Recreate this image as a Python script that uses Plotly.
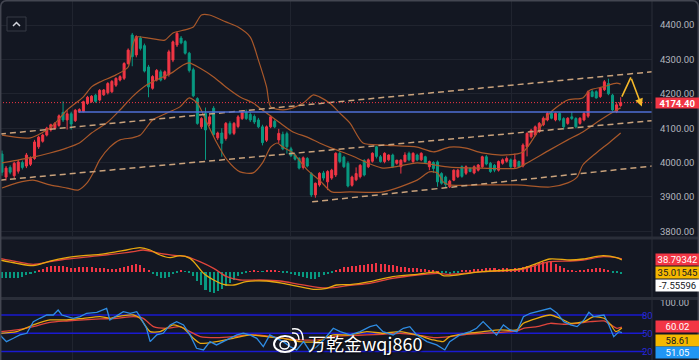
import plotly.graph_objects as go

# ---------------- data ----------------
opens = [4025, 3958, 3986, 3962, 3975, 4000, 3990, 3995, 4012, 4046,
         4062, 4080, 4095, 4100, 4108, 4146, 4124, 4142, 4122, 4147,
         4148, 4172, 4177, 4196, 4182, 4197, 4203, 4206, 4225, 4240,
         4245, 4288, 4371, 4313, 4362, 4340, 4278, 4216, 4240, 4264,
         4245, 4256, 4298, 4342, 4362, 4352, 4318, 4270, 4186, 4104,
         4143, 4112, 4158, 4072, 4086, 4070, 4114, 4085, 4105, 4128,
         4146, 4140, 4134, 4124, 4104, 4065, 4104, 4120, 4066, 4082,
         4084, 4040, 4022, 4012, 3986, 4012, 3968, 3906, 3935, 3970,
         3944, 3955, 3964, 4027, 4016, 3998, 3934, 3950, 3959, 4006,
         3988, 4004, 4046, 4017, 4003, 4008, 4022, 3998, 3988, 4003,
         4027, 4003, 4022, 4008, 4017, 3988, 4000, 4002, 3968, 3958,
         3930, 3949, 3959, 3988, 3969, 3983, 3970, 3978, 3988, 4017,
         3998, 3992, 3978, 3998, 4004, 4008, 3988, 4003, 3990, 4046,
         4075, 4080, 4090, 4110, 4124, 4143, 4124, 4143, 4128, 4114,
         4133, 4128, 4114, 4124, 4135, 4206, 4206, 4192, 4212, 4230,
         4196, 4148, 4166]
highs = [4035, 3990, 3992, 4002, 4008, 4006, 4028, 4018, 4066, 4078,
         4084, 4104, 4113, 4118, 4140, 4178, 4152, 4148, 4156, 4158,
         4180, 4194, 4196, 4200, 4214, 4214, 4234, 4240, 4248, 4254,
         4292, 4332, 4377, 4370, 4368, 4346, 4284, 4254, 4272, 4270,
         4268, 4328, 4355, 4381, 4368, 4356, 4322, 4276, 4190, 4132,
         4160, 4138, 4164, 4090, 4100, 4118, 4120, 4118, 4138, 4152,
         4154, 4146, 4140, 4130, 4110, 4108, 4138, 4126, 4098, 4090,
         4090, 4046, 4026, 4016, 4018, 4016, 3972, 3942, 3972, 3976,
         3978, 3982, 4030, 4032, 4020, 4004, 3962, 3986, 3996, 4010,
         4012, 4030, 4048, 4022, 4030, 4024, 4026, 4008, 4010, 4030,
         4032, 4030, 4026, 4030, 4020, 4006, 4004, 4006, 3972, 3962,
         3950, 3980, 3982, 3992, 3992, 3986, 3992, 3996, 4020, 4022,
         4002, 3996, 4006, 4012, 4018, 4012, 4026, 4006, 4056, 4088,
         4098, 4108, 4118, 4134, 4148, 4148, 4146, 4146, 4132, 4132,
         4148, 4132, 4132, 4148, 4210, 4212, 4210, 4220, 4240, 4244,
         4200, 4176, 4190]
lows = [3962, 3948, 3966, 3955, 3968, 3980, 3984, 3990, 4008, 4040,
        4058, 4076, 4090, 4096, 4104, 4118, 4096, 4096, 4118, 4144,
        4146, 4168, 4174, 4174, 4178, 4194, 4198, 4202, 4220, 4236,
        4240, 4284, 4280, 4306, 4326, 4262, 4190, 4212, 4236, 4236,
        4240, 4250, 4292, 4336, 4344, 4314, 4262, 4190, 4110, 4098,
        4008, 4106, 4076, 4066, 4017, 4064, 4080, 4080, 4100, 4124,
        4124, 4118, 4112, 4100, 4050, 4060, 4100, 4100, 4056, 4036,
        4026, 4016, 4006, 3980, 3980, 3986, 3900, 3898, 3930, 3948,
        3920, 3950, 3958, 3998, 3984, 3928, 3930, 3946, 3954, 3960,
        3984, 4000, 4012, 4000, 3998, 4004, 3984, 3994, 3968, 4000,
        4004, 3998, 4004, 4004, 3996, 3978, 3970, 3930, 3936, 3928,
        3926, 3946, 3955, 3956, 3964, 3972, 3966, 3974, 3984, 3992,
        3970, 3972, 3974, 3994, 4000, 3984, 3984, 3986, 3986, 4018,
        4070, 4076, 4086, 4106, 4120, 4126, 4120, 4120, 4096, 4110,
        4124, 4100, 4110, 4120, 4130, 4190, 4186, 4188, 4208, 4196,
        4148, 4144, 4162]
closes = [3972, 3984, 3972, 3998, 4002, 3986, 4022, 4012, 4060, 4074,
          4080, 4100, 4110, 4114, 4136, 4124, 4142, 4112, 4152, 4154,
          4177, 4190, 4193, 4178, 4210, 4211, 4230, 4236, 4245, 4250,
          4288, 4327, 4308, 4366, 4332, 4266, 4220, 4250, 4268, 4240,
          4264, 4322, 4351, 4376, 4348, 4318, 4268, 4194, 4114, 4128,
          4095, 4133, 4082, 4086, 4056, 4114, 4085, 4114, 4133, 4146,
          4128, 4124, 4118, 4104, 4058, 4104, 4133, 4104, 4085, 4040,
          4046, 4020, 4010, 3984, 4014, 3990, 3906, 3940, 3969, 3955,
          3974, 3978, 4027, 4003, 3988, 3932, 3958, 3968, 3992, 3964,
          4008, 4027, 4018, 4003, 4027, 4022, 3988, 4007, 4007, 4022,
          4008, 4027, 4008, 4027, 4000, 4003, 3983, 3944, 3940, 3936,
          3946, 3978, 3978, 3960, 3988, 3974, 3988, 3993, 4017, 3996,
          3974, 3978, 4003, 4008, 4012, 3988, 4008, 3988, 4051, 4085,
          4094, 4104, 4114, 4129, 4143, 4129, 4143, 4124, 4104, 4129,
          4128, 4104, 4129, 4143, 4206, 4192, 4188, 4216, 4235, 4200,
          4153, 4168, 4174.4]
bars = list(range(len(closes)))

# Bollinger bands (sampled at bar positions)
bb_upper_x = [0, 7, 12, 16, 20, 22, 24, 28, 31, 32, 33, 36, 40, 42, 45, 47, 49, 51, 55, 58, 61, 63, 65, 66,
              69, 71.5, 74, 76.5, 78, 80.5, 83, 85.5, 88.7, 93.6, 102, 106, 110, 114, 118, 123, 128, 131.4,
              134.6, 139, 142.7, 144.5, 147.7, 151, 152]
bb_upper = [4080, 4072, 4103, 4153, 4191, 4220, 4234, 4255, 4278, 4336, 4365, 4362, 4356, 4377, 4386, 4394,
            4429, 4429, 4409, 4394, 4365, 4298, 4220, 4162, 4153, 4159, 4173, 4197, 4191, 4173, 4144, 4115,
            4057, 4051, 4045, 4031, 4045, 4042, 4028, 4022, 4031, 4086, 4144, 4182, 4188, 4211, 4220, 4231, 4228]
bb_mid_x = [0, 7.6, 11.8, 16, 19, 22, 26, 29, 32, 35.6, 39, 42, 44.5, 46, 48.6, 52, 55, 58.5, 61.7, 65, 68,
            71.5, 75, 78, 81, 85.5, 93.6, 102, 110, 118, 126.5, 129, 134.6, 139, 142.7, 147, 151, 152]
bb_mid = [3999, 4016, 4028, 4043, 4057, 4086, 4118, 4153, 4191, 4226, 4246, 4263, 4284, 4290, 4275, 4249,
          4220, 4191, 4173, 4144, 4118, 4089, 4074, 4057, 4042, 4022, 3984, 3999, 3987, 3984, 3984, 3999,
          4037, 4066, 4089, 4124, 4153, 4159]
bb_lower_x = [0, 3.7, 7.6, 11.8, 16, 18.7, 20.9, 22.4, 24, 26.5, 29, 32, 34, 37, 40.5, 43.7, 46, 48, 50.4,
              52.8, 55.3, 58.5, 61.7, 64, 66, 67.6, 69, 71.5, 75, 78, 81, 85.5, 93.6, 102, 105, 107, 108.4,
              110, 118, 126.5, 134.6, 139, 141.3, 142.7, 146, 149.4, 152]
bb_lower = [3926, 3941, 3949, 3935, 3926, 3920, 3941, 3970, 4008, 4045, 4066, 4072, 4080, 4124, 4144, 4162,
            4188, 4173, 4115, 4057, 4008, 3973, 3970, 3999, 4045, 4057, 4045, 4028, 3979, 3949, 3915, 3915,
            3915, 3949, 3973, 3970, 3944, 3935, 3935, 3935, 3929, 3941, 3958, 3993, 4028, 4060, 4086]

# drawn channel / levels: (bar position, price) end points
chan_upper = ([-0.5, 159.7], [4083, 4264])
chan_mid = ([-0.5, 159.7], [3949, 4122])
chan_lower = ([76.2, 159.7], [3886, 3990])
support_level = ([18.8, 159.7], [4147, 4147])
last_price = 4174.40
arrow_path = ([152.3, 154.5, 157.2], [4192, 4248, 4163])

# MACD
macd_hist = [-20, -21, -20, -20, -19, -16, -12, -7, -3,
             5, 9, 14, 16, 17, 18, 17, 15, 12, 12, 14, 15, 15, 15, 12, 12, 10, 9, 8, 9, 11, 13, 16, 20, 22, 19, 11, 2,
             -8, -15, -19, -20, -16, -9, -3,
             2, -1,
             -4, -14, -28, -42, -55, -62, -65, -60, -52, -45, -35, -25, -15, -8, -3,
             1, 2, 1, -1, 2, 4, 3, 1, -2,
             -5, -9, -12, -15, -18, -20, -24, -22, -18, -12, -7, -3,
             4, 9, 13, 15,
             16, 18, 20, 21, 23, 24, 25, 24, 22, 21, 19, 17, 15, 14, 12, 11, 10, 9, 7, 5, 3, 1,
             -3, -6, -7, -5, -3,
             3, 5, 6, 7, 8, 9, 10, 10, 10, 9, 10, 10, 9, 10, 11, 14, 18, 21, 24, 26, 28, 30, 28, 24, 18, 12, 6, 2, 1, 2,
             5, 8, 9, 10, 10, 9, 5,
             -3, -6, -7.55596]
dif_x = [-0.5, 3.6, 7.7, 11.8, 15.9, 20, 24, 28.2, 30.6, 33.9, 36.4, 38.8, 41.3, 43.7, 46.2, 47.8, 49.5, 52,
         54.4, 57, 60, 65, 69, 73, 76.5, 79.8, 82.2, 85.5, 90.4, 96, 102, 107, 108.4, 111.7, 118, 124.8, 128,
         131.4, 134.6, 139.6, 142.8, 147.7, 151, 152.3]
dif = [35.1, 24.9, 17.8, 32.0, 42.2, 48.3, 52.4, 60.5, 65.6, 72.7, 65.6, 50.3, 42.2, 48.3, 40.2, 19.8, -5.6,
       -25.9, -39.1, -41.2, -31.0, -29.0, -36.1, -46.3, -54.4, -51.3, -41.2, -40.0, -31.0, -15.8, -8.6, -2.5,
       -12.7, -10.7, -0.5, 4.6, 9.7, 24.9, 38.1, 35.1, 38.1, 48.3, 42.2, 35.01545]
dea_x = [-0.5, 3.6, 7.7, 11.8, 15.9, 24, 32.3, 34.7, 38.8, 43, 45.4, 48.6, 52, 55.2, 58.5, 63.4, 68.3, 73,
         78.2, 82.2, 85.5, 90.4, 96, 102, 107, 110, 118, 124.8, 128, 131.4, 134.6, 139.6, 142.8, 147.7, 151, 152.3]
dea = [40.2, 30, 21.9, 30, 38.1, 48.3, 60.5, 65.6, 55.4, 48.3, 45.2, 30, 9.7, -15.8, -25.9, -25.9, -29, -39.1,
       -49.3, -48.3, -42, -36.1, -20.9, -10.7, -5.6, -8.6, -0.5, 2.5, 6.6, 19.8, 30, 32, 35.1, 45.2, 42.2, 38.79342]

# RSI
rsi6_x = [-0.5, 1.1, 2.8, 4.4, 6.1, 7.7, 9.3, 11, 12.6, 13.8, 14.7, 15.9, 17.5, 19.2, 20.8, 23.3, 25.7, 26.5,
          27.8, 29.8, 31.5, 33.1, 33.9, 35.5, 36.4, 38, 39.6, 41.3, 42.9, 44.6, 46.2, 47.8, 49.5, 51.1, 52.7,
          54.4, 56, 57.7, 59.3, 60.9, 62.6, 64.2, 65.8, 67.5, 69.1, 70.8, 72.4, 74.1, 75.7, 77.3, 79, 81.4,
          83.1, 85.5, 88, 90.4, 92, 93.6, 96.1, 98.6, 100.2, 101.9, 104.4, 106.8, 108.8, 110, 112.5, 115,
          116.6, 118.2, 119.9, 121.5, 123.2, 124.8, 126.5, 128.1, 129.8, 131.4, 133.1, 134.7, 136.4, 138,
          139.7, 141.3, 143, 144.2, 145.4, 147.9, 149.1, 150.3, 151.6, 152.3]
rsi6 = [47.3, 36.3, 41.8, 47.3, 50, 69.1, 74.6, 80, 80, 88.2, 80, 77.3, 74.6, 77.3, 82.8, 84.4, 91, 71.9,
        77.3, 85.5, 82.8, 85.5, 77.3, 58.2, 36.3, 47.3, 50, 63.7, 69.1, 63.7, 47.3, 25.4, 22.7, 36.3, 30.9,
        36.3, 41.8, 47.3, 50, 47.3, 41.8, 28.1, 47.3, 41.8, 36.3, 28.1, 22.7, 36.3, 20, 28.1, 39.1, 58.2,
        52.7, 47.3, 52.7, 60.9, 63.7, 52.7, 47.3, 58.2, 60.9, 47.3, 36.3, 30.9, 22.7, 36.3, 47.3, 52.7,
        58.2, 69.1, 58.2, 47.3, 63.7, 55.5, 52.7, 77.3, 82.8, 85.5, 88.2, 91, 82.8, 69.1, 63.7, 60.9, 71.9,
        84.4, 77.3, 80, 63.7, 44.5, 52.7, 51.05]
rsi12_x = [-0.5, 3.6, 7.7, 11.8, 15.9, 20, 24.1, 26.5, 28.2, 32.3, 33.9, 36.4, 38.8, 42.1, 44.6, 47, 48.7,
           52.7, 56.8, 60.9, 65, 69.1, 73.2, 77.3, 81.4, 85.5, 89.6, 93.6, 97.7, 101.9, 106, 108.4, 110,
           114.1, 118.2, 122.3, 126.5, 128.1, 131.4, 134.7, 137.1, 139.7, 143, 145.4, 147.9, 149.6, 150.8, 152.3]
rsi12 = [50, 52.7, 63.7, 71.9, 71.9, 74.6, 77.3, 74.6, 77.3, 80, 74.6, 52.7, 52.7, 63.7, 58.2, 41.8, 33.6,
         36.3, 41.8, 47.3, 44.5, 41.8, 36.3, 36.3, 47.3, 47.3, 52.7, 50, 52.7, 47.3, 39.1, 36.3, 44.5, 50,
         52.7, 55.5, 55.5, 66.4, 74.6, 80, 74.6, 66.4, 69.1, 77.3, 74.6, 63.7, 52.7, 58.61]
rsi24_x = [-0.5, 3.6, 7.7, 11.8, 15.9, 20, 24.1, 28.2, 32.3, 34.7, 37.2, 40.5, 43.7, 46.2, 48.7, 52.7, 56.8,
           60.9, 65, 69.1, 73.2, 77.3, 81.4, 85.5, 89.6, 93.6, 97.7, 101.9, 106, 110, 114.1, 118.2, 122.3,
           126.5, 128.1, 131.4, 134.7, 138, 141.3, 144.6, 147.9, 149.6, 151.1, 152.3]
rsi24 = [52.7, 55.5, 60.9, 68, 70.2, 71.9, 73.5, 74.6, 77.3, 74.6, 60.9, 58.2, 60.9, 52.7, 44.5, 42.9, 44.5,
         47.3, 45.6, 41.8, 39.1, 39.1, 44.5, 46.2, 47.3, 48.4, 50, 47.3, 42.9, 44.5, 48.4, 50, 51.6, 53.8,
         58.2, 60.9, 66.4, 64.8, 66.4, 69.1, 70.2, 63.7, 58.2, 60.02]
rsi_levels = [80, 50, 20]
price_ticks = [3800, 3900, 4000, 4100, 4200, 4300, 4400]

for a, b in [(opens, closes), (highs, lows), (bars, macd_hist), (bb_upper_x, bb_upper), (bb_mid_x, bb_mid),
             (bb_lower_x, bb_lower), (dif_x, dif), (dea_x, dea), (rsi6_x, rsi6), (rsi12_x, rsi12),
             (rsi24_x, rsi24)]:
    assert len(a) == len(b), (len(a), len(b))

# ---------------- styling ----------------
BG = "#131722"
GRID = "#20242f"
UP = "#f23645"
DN = "#089981"
BAND = "#a9582a"
CHAN = "#c9a27c"
GOLD = "#f5b82a"
AXIS_TXT = "#b2b5be"
FONT = "Roboto"
FS = 9.5
W, H = 699, 360
PW = 652  # plot width in px (price scale to the right)


def pxx(x):
    return x / PW


def pyy(y):
    return 1 - y / H


XR = [-0.49, 159.7]
VGRID = [17.2, 71.0, 125.1]

fig = go.Figure()

# main pane
for xs, ys in [(bb_upper_x, bb_upper), (bb_mid_x, bb_mid), (bb_lower_x, bb_lower)]:
    fig.add_trace(go.Scatter(x=xs, y=ys, mode="lines", hoverinfo="skip",
                             line=dict(color=BAND, width=1.2, shape="spline", smoothing=0.7),
                             xaxis="x", yaxis="y"))
for xs, ys in [chan_upper, chan_mid, chan_lower]:
    fig.add_trace(go.Scatter(x=xs, y=ys, mode="lines", hoverinfo="skip",
                             line=dict(color=CHAN, width=1.5, dash="6px,4px"), xaxis="x", yaxis="y"))
fig.add_trace(go.Scatter(x=support_level[0], y=support_level[1], mode="lines", hoverinfo="skip",
                         line=dict(color="#4f6fd6", width=1.6), xaxis="x", yaxis="y"))
fig.add_trace(go.Scatter(x=XR, y=[last_price, last_price], mode="lines", hoverinfo="skip",
                         line=dict(color=UP, width=1, dash="1px,2px"), xaxis="x", yaxis="y"))
fig.add_trace(go.Candlestick(x=bars, open=opens, high=highs, low=lows, close=closes,
                             increasing=dict(line=dict(color=UP, width=1), fillcolor=UP),
                             decreasing=dict(line=dict(color=DN, width=1), fillcolor=DN),
                             whiskerwidth=0, hoverinfo="skip", xaxis="x", yaxis="y"))
fig.add_trace(go.Scatter(x=arrow_path[0][:2], y=arrow_path[1][:2], mode="lines", hoverinfo="skip",
                         line=dict(color=GOLD, width=1.6), xaxis="x", yaxis="y"))

# MACD pane
fig.add_trace(go.Bar(x=bars, y=macd_hist, width=0.5, hoverinfo="skip",
                     marker=dict(color=[UP if v >= 0 else DN for v in macd_hist], line=dict(width=0)),
                     xaxis="x2", yaxis="y2"))
fig.add_trace(go.Scatter(x=dea_x, y=dea, mode="lines", hoverinfo="skip",
                         line=dict(color="#e0453c", width=1.3, shape="spline", smoothing=0.8),
                         xaxis="x2", yaxis="y2"))
fig.add_trace(go.Scatter(x=dif_x, y=dif, mode="lines", hoverinfo="skip",
                         line=dict(color="#e8a80f", width=1.3, shape="spline", smoothing=0.8),
                         xaxis="x2", yaxis="y2"))

# RSI pane
for lv in rsi_levels:
    fig.add_trace(go.Scatter(x=[XR[0], 157.8], y=[lv, lv], mode="lines", hoverinfo="skip",
                             line=dict(color="#1a1ad0", width=1.5), xaxis="x3", yaxis="y3"))
fig.add_trace(go.Scatter(x=rsi24_x, y=rsi24, mode="lines", hoverinfo="skip",
                         line=dict(color="#e0453c", width=1.3, shape="spline", smoothing=0.6),
                         xaxis="x3", yaxis="y3"))
fig.add_trace(go.Scatter(x=rsi12_x, y=rsi12, mode="lines", hoverinfo="skip",
                         line=dict(color="#e8a80f", width=1.3, shape="spline", smoothing=0.6),
                         xaxis="x3", yaxis="y3"))
fig.add_trace(go.Scatter(x=rsi6_x, y=rsi6, mode="lines", hoverinfo="skip",
                         line=dict(color="#2f8de4", width=1.3),
                         xaxis="x3", yaxis="y3"))

xcommon = dict(range=XR, tickvals=VGRID, showticklabels=False, showgrid=True, gridcolor=GRID,
               gridwidth=1, zeroline=False, showline=False, ticks="", fixedrange=True)
layout = dict(
    width=W, height=H, margin=dict(l=0, r=W - PW, t=0, b=0, autoexpand=False),
    paper_bgcolor=BG, plot_bgcolor=BG, showlegend=False, bargap=0,
    font=dict(family=FONT, color=AXIS_TXT, size=FS),
    xaxis=dict(domain=[0, 1], anchor="y", rangeslider=dict(visible=False), **xcommon),
    xaxis2=dict(domain=[0, 1], anchor="y2", **xcommon),
    xaxis3=dict(domain=[0, 1], anchor="y3", **xcommon),
    yaxis=dict(domain=[pyy(236), 1], side="right", range=[3786.6, 4472.7], tickvals=price_ticks,
               tickformat=".2f", showgrid=True, gridcolor=GRID, zeroline=False, ticks="outside",
               ticklen=5, tickcolor=BG, automargin=False,
               tickfont=dict(color=AXIS_TXT, size=FS, family=FONT)),
    yaxis2=dict(domain=[pyy(297), pyy(240)], side="right", range=[-77.8, 96.1], showgrid=False,
                zeroline=False, showticklabels=False, automargin=False),
    yaxis3=dict(domain=[0, pyy(300)], side="right", range=[6.2, 104.6], showgrid=False, zeroline=False,
                tickvals=[100], ticktext=["100.00"], ticks="outside", ticklen=5, tickcolor=BG,
                automargin=False, tickfont=dict(color=AXIS_TXT, size=FS, family=FONT)),
)
fig.update_layout(**layout)

shapes = []
# pane separators
for y in (238, 298.5):
    shapes.append(dict(type="line", xref="paper", yref="paper", x0=0, x1=W / PW, y0=pyy(y), y1=pyy(y),
                       line=dict(color="#2a2e39", width=3)))
# price-scale separator
shapes.append(dict(type="line", xref="paper", yref="paper", x0=1, x1=1, y0=0, y1=1,
                   line=dict(color="#2a2e39", width=1)))
# outer frame with rounded top corners
r = 7
path = (f"M {pxx(0.7)} {pyy(H)} L {pxx(0.7)} {pyy(r)} Q {pxx(0.7)} {pyy(0.7)} {pxx(r)} {pyy(0.7)} "
        f"L {pxx(W - r)} {pyy(0.7)} Q {pxx(W - 0.7)} {pyy(0.7)} {pxx(W - 0.7)} {pyy(r)} L {pxx(W - 0.7)} {pyy(H)}")
shapes.append(dict(type="path", xref="paper", yref="paper", path=path, line=dict(color="#434651", width=1.5)))
# collapse button
shapes.append(dict(type="rect", xref="paper", yref="paper", x0=pxx(7), x1=pxx(26), y0=pyy(31), y1=pyy(17),
                   line=dict(color="#363a45", width=1), fillcolor="#131722"))
shapes.append(dict(type="path", xref="paper", yref="paper",
                   path=f"M {pxx(13)} {pyy(26)} L {pxx(16.5)} {pyy(22.5)} L {pxx(20)} {pyy(26)}",
                   line=dict(color="#d1d4dc", width=1.5)))
# weibo-like logo
shapes.append(dict(type="circle", xref="paper", yref="paper", x0=pxx(274), x1=pxx(296), y0=pyy(352),
                   y1=pyy(336), line=dict(color="white", width=2), fillcolor="rgba(0,0,0,0)"))
shapes.append(dict(type="circle", xref="paper", yref="paper", x0=pxx(280), x1=pxx(289), y0=pyy(349),
                   y1=pyy(341), line=dict(color="white", width=1.5), fillcolor="rgba(0,0,0,0)"))
shapes.append(dict(type="path", xref="paper", yref="paper",
                   path=f"M {pxx(292)} {pyy(333)} Q {pxx(299)} {pyy(332)} {pxx(299)} {pyy(340)}",
                   line=dict(color="white", width=1.5)))
shapes.append(dict(type="path", xref="paper", yref="paper",
                   path=f"M {pxx(292)} {pyy(329)} Q {pxx(303)} {pyy(327)} {pxx(303)} {pyy(340)}",
                   line=dict(color="white", width=1.5)))
fig.update_layout(shapes=shapes)

ann = []
# last-segment arrow of the projection
ann.append(dict(x=arrow_path[0][2], y=arrow_path[1][2], ax=arrow_path[0][1], ay=arrow_path[1][1],
                xref="x", yref="y", axref="x", ayref="y", text="", showarrow=True, arrowhead=2,
                arrowsize=1, arrowwidth=1.6, arrowcolor=GOLD))


def box(text, yref, y, bg, fg, bold=False, w=42, h=10):
    return dict(xref="paper", yref=yref, x=pxx(655), y=y, xanchor="left", yanchor="middle",
                text=f"<b>{text}</b>" if bold else text, showarrow=False, bgcolor=bg,
                font=dict(color=fg, size=FS, family=FONT), width=w, height=h, borderpad=0.5,
                align="center")


ann.append(box(f"{last_price:.2f}", "y", last_price, UP, "white", bold=True, h=9))
ann.append(box(f"{dea[-1]:.5f}", "paper", pyy(259), "#f23645", "white"))
ann.append(box(f"{dif[-1]:.5f}", "paper", pyy(272), "#f5b800", "#131722"))
ann.append(box(f"{macd_hist[-1]:.5f}", "paper", pyy(285), "#ffffff", "#131722"))
ann.append(box(f"{rsi24[-1]:.2f}", "paper", pyy(326.5), "#f23645", "white"))
ann.append(box(f"{rsi12[-1]:.2f}", "paper", pyy(340.5), "#f5b800", "#131722"))
ann.append(box(f"{rsi6[-1]:.2f}", "paper", pyy(352.5), "#2196f3", "white"))
for lv in rsi_levels:
    ann.append(dict(xref="paper", yref="y3", x=pxx(655), y=lv, xanchor="right", yanchor="middle",
                    text=str(lv), showarrow=False, font=dict(color="#2a2ad8", size=FS, family=FONT)))
ann.append(dict(xref="paper", yref="paper", x=pxx(306), y=pyy(343), xanchor="left", yanchor="middle",
                text="万乾金wqj860", showarrow=False,
                font=dict(color="white", size=18, family="Noto Sans CJK SC", shadow="1px 1px 2px #000")))
fig.update_layout(annotations=ann)

fig.write_html("out.html", config={"displayModeBar": False},
               post_script="document.body.style.margin='0';document.body.style.overflow='hidden';")
